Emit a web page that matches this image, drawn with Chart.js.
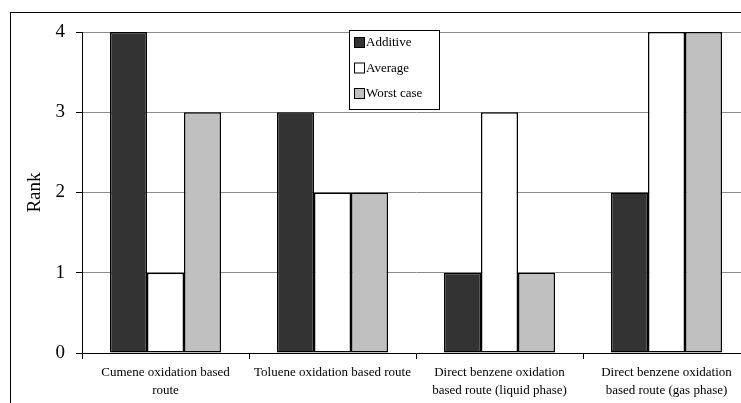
<!DOCTYPE html>
<html>
<head>
<meta charset="utf-8">
<script src="https://cdn.jsdelivr.net/npm/chart.js@4.4.1/dist/chart.umd.min.js"></script>
<style>
  html, body { margin: 0; padding: 0; background: #fff; overflow: hidden; }
  #wrap { position: absolute; left: 0; top: 0; width: 770px; height: 403px; }
</style>
</head>
<body>
<div id="wrap"><canvas id="chart" width="770" height="403"></canvas></div>
<script>
var routes = [
    ["Cumene oxidation based", "route"],
    "Toluene oxidation based route",
    ["Direct benzene oxidation", "based route (liquid phase)"],
    ["Direct benzene oxidation", "based route (gas phase)"]
];
var additive = [4, 3, 1, 2];
var average = [1, 2, 3, 4];
var worstCase = [3, 2, 1, 4];
var rankTicks = [0, 1, 2, 3, 4];

var serif = "'Liberation Serif', 'Times New Roman', serif";

// outer frame of the figure, runs off the right and bottom edges
var framePlugin = {
    id: 'frame',
    beforeDraw: function(chart) {
        var ctx = chart.ctx;
        ctx.save();
        ctx.fillStyle = '#fff';
        ctx.fillRect(0, 0, chart.width, chart.height);
        ctx.strokeStyle = '#000';
        ctx.lineWidth = 1;
        ctx.strokeRect(10.5, 12.5, 2000, 2000);
        ctx.restore();
    }
};

// boxed legend sitting inside the plot
var boxLegend = {
    id: 'boxLegend',
    afterDraw: function(chart) {
        var ctx = chart.ctx;
        var x = 349, y = 30, w = 90, h = 79;
        ctx.save();
        ctx.fillStyle = '#fff';
        ctx.fillRect(x, y, w, h);
        ctx.strokeStyle = '#000';
        ctx.lineWidth = 1;
        ctx.strokeRect(x + 0.5, y + 0.5, w, h);
        ctx.font = '13px ' + serif;
        ctx.textBaseline = 'middle';
        chart.data.datasets.forEach(function(ds, i) {
            var cy = 43 + i * 25.5;
            ctx.fillStyle = ds.backgroundColor;
            ctx.fillRect(354, cy - 5, 10, 10);
            ctx.strokeStyle = '#000';
            ctx.strokeRect(354.5, cy - 5.5, 10, 10);
            ctx.fillStyle = '#000';
            ctx.fillText(ds.label, 366, cy);
        });
        ctx.restore();
    }
};

var barStyle = { borderColor: '#000', borderWidth: 1.5, borderSkipped: false,
                 barPercentage: 1, categoryPercentage: 0.665 };

new Chart(document.getElementById('chart'), {
    type: 'bar',
    data: {
        labels: routes,
        datasets: [
            Object.assign({ label: 'Additive', data: additive, backgroundColor: '#333333' }, barStyle),
            Object.assign({ label: 'Average', data: average, backgroundColor: '#ffffff' }, barStyle),
            Object.assign({ label: 'Worst case', data: worstCase, backgroundColor: '#c0c0c0' }, barStyle)
        ]
    },
    options: {
        responsive: false,
        animation: false,
        layout: { padding: { left: 20, top: 32, right: 20, bottom: 0 } },
        plugins: { legend: { display: false }, tooltip: { enabled: false } },
        scales: {
            x: {
                afterFit: function(s) { s.height = 50; },
                grid: { drawOnChartArea: false, drawTicks: true, tickLength: 6, color: '#000' },
                border: { color: '#000', width: 1 },
                ticks: { color: '#000', padding: 5, maxRotation: 0,
                         font: { family: serif, size: 13, lineHeight: 1.35 } }
            },
            y: {
                min: 0,
                max: 4,
                afterFit: function(s) { s.width = 62; },
                afterBuildTicks: function(s) {
                    s.ticks = rankTicks.map(function(v) { return { value: v }; });
                },
                grid: { color: '#8c8c8c', tickColor: '#000', tickLength: 6 },
                border: { color: '#000', width: 1 },
                ticks: { color: '#000', padding: 11, font: { family: serif, size: 19 } },
                title: { display: true, text: 'Rank', color: '#000',
                         font: { family: serif, size: 19 }, padding: { top: 4, bottom: 0 } }
            }
        }
    },
    plugins: [framePlugin, boxLegend]
});
</script>
</body>
</html>
